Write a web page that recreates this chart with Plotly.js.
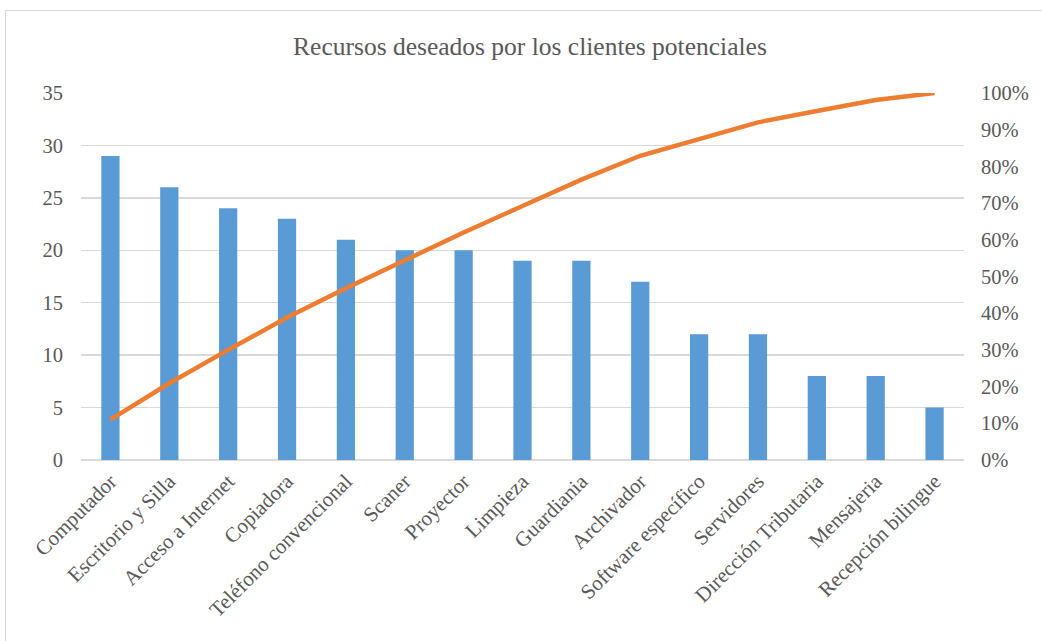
<!DOCTYPE html>
<html>
<head>
<meta charset="utf-8">
<script src="https://cdn.plot.ly/plotly-3.0.1.min.js"></script>
<style>
  html, body { margin: 0; padding: 0; background: #fff; }
  #frame { position: absolute; left: 5px; top: 10px; width: 1100px; height: 700px; border: 1px solid #d9d9d9; pointer-events: none; z-index: 5; }
  #chart { position: absolute; left: 0; top: 0; width: 1042px; height: 641px; }
</style>
</head>
<body>
<div id="chart"></div>
<div id="frame"></div>
<script>
const categories = ["Computador", "Escritorio y Silla", "Acceso a Internet", "Copiadora",
  "Teléfono convencional", "Scaner", "Proyector", "Limpieza", "Guardiania", "Archivador",
  "Software específico", "Servidores", "Dirección Tributaria", "Mensajeria", "Recepción bilingue"];
const counts = [29, 26, 24, 23, 21, 20, 20, 19, 19, 17, 12, 12, 8, 8, 5];
const cumulativePct = [0.110, 0.209, 0.300, 0.388, 0.468, 0.544, 0.620, 0.692, 0.764, 0.829, 0.875, 0.920, 0.951, 0.981, 1.000];
const leftTicks = [0, 5, 10, 15, 20, 25, 30, 35];
const rightTicks = [0, 0.1, 0.2, 0.3, 0.4, 0.5, 0.6, 0.7, 0.8, 0.9, 1.0];
const rightTickLabels = ["0%", "10%", "20%", "30%", "40%", "50%", "60%", "70%", "80%", "90%", "100%"];
const titleText = "Recursos deseados por los clientes potenciales";

const serif = "Liberation Serif, Times New Roman, serif";
const font = { family: serif, size: 20.5, color: "#595959" };
const xfont = { family: serif, size: 21, color: "#595959" };

const traces = [
  {
    type: "bar", x: categories, y: counts,
    marker: { color: "#5B9BD5" }, yaxis: "y", hoverinfo: "x+y"
  },
  {
    type: "scatter", mode: "lines", x: categories, y: cumulativePct,
    line: { color: "#ED7D31", width: 4.5 }, yaxis: "y2"
  }
];

const layout = {
  width: 1042, height: 641,
  margin: { l: 81, r: 78, t: 93, b: 181 },
  paper_bgcolor: "#fff", plot_bgcolor: "#fff",
  showlegend: false,
  bargap: 0.69,
  font: font,
  title: { text: titleText, font: { family: serif, size: 25.5, color: "#595959" },
           x: 0.5086, xanchor: "center", y: 0.928, yanchor: "middle" },
  xaxis: {
    type: "category", tickangle: -45, tickfont: xfont,
    showgrid: false, showline: false, ticks: "", zeroline: false,
    ticklabelstandoff: 4
  },
  yaxis: {
    range: [0, 35], tickvals: leftTicks, ticktext: leftTicks.map(String),
    tickfont: font, showgrid: true, gridcolor: "#d9d9d9", gridwidth: 1.5,
    zeroline: true, zerolinecolor: "#d9d9d9", zerolinewidth: 1.5,
    showline: false, ticks: "", ticklen: 0, automargin: false,
    ticklabelstandoff: 17
  },
  yaxis2: {
    overlaying: "y", side: "right", range: [0, 1],
    tickvals: rightTicks, ticktext: rightTickLabels, tickfont: font,
    showgrid: false, zeroline: false, showline: false, ticks: "", automargin: false,
    ticklabelstandoff: 16
  }
};

Plotly.newPlot("chart", traces, layout, { displayModeBar: false, staticPlot: true });
</script>
</body>
</html>
